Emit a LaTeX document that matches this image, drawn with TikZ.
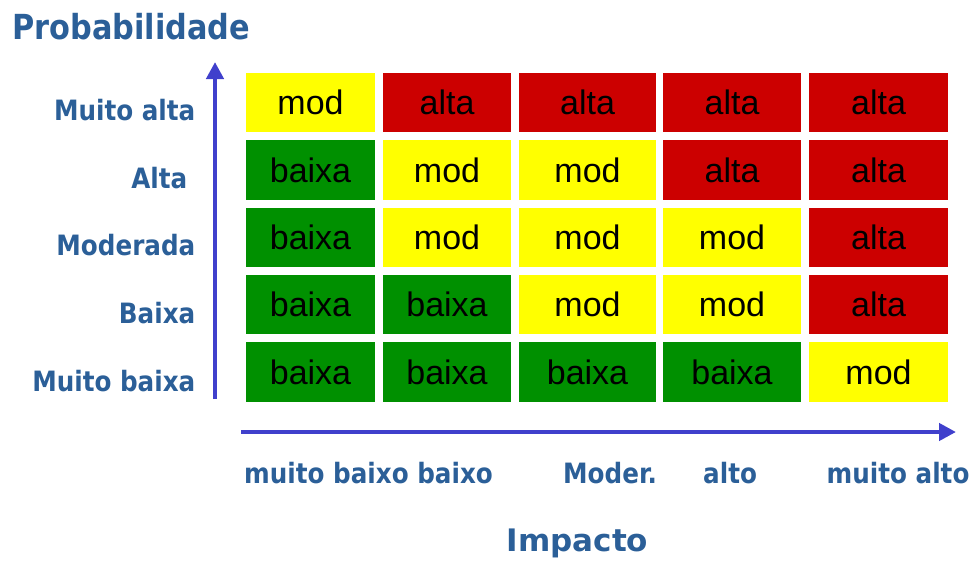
\documentclass[tikz,border=0pt]{standalone}
\usepackage{fontspec}
\setmainfont{Liberation Sans}
\newfontfamily\labfont[FakeStretch=0.88]{DejaVu Sans}
\newfontfamily\labfontw{DejaVu Sans}
\usetikzlibrary{arrows.meta}
\definecolor{cy}{RGB}{255,255,0}
\definecolor{cr}{RGB}{204,0,0}
\definecolor{cg}{RGB}{0,144,0}
\definecolor{lblue}{RGB}{43,95,152}
\definecolor{ablue}{RGB}{64,64,204}
\tikzset{
  cell/.style={inner sep=0pt, outer sep=0pt, minimum height=59.5pt, text height=24pt, text depth=0pt,
     font=\fontsize{34}{36}\selectfont, text=black},
  rowlab/.style={anchor=base east, inner sep=0pt, text=lblue, font=\labfont\bfseries\fontsize{28}{30}\selectfont},
  collab/.style={anchor=base west, inner sep=0pt, text=lblue, font=\labfont\bfseries\fontsize{28}{30}\selectfont},
  title/.style={anchor=base west, inner sep=0pt, text=lblue},
  axis/.style={draw=ablue, line width=4.5pt, -{Triangle[length=17pt,width=17pt]}}
}
\begin{document}
\begin{tikzpicture}[x=1pt,y=-1pt]
\useasboundingbox (0,0) rectangle (971,562);
% column centres and widths
\def\cA{310.5}\def\wA{129}
\def\cB{447}\def\wB{128}
\def\cC{587.5}\def\wC{137}
\def\cD{732}\def\wD{138}
\def\cE{878.5}\def\wE{139}
\def\rA{102.7}\def\rB{170}\def\rC{237.3}\def\rD{304.6}\def\rE{372}
% row 1
\node[cell, fill=cy, minimum width=\wA] (c11) at (\cA,\rA) {mod};
\node[cell, fill=cr, minimum width=\wB] (c12) at (\cB,\rA) {alta};
\node[cell, fill=cr, minimum width=\wC] (c13) at (\cC,\rA) {alta};
\node[cell, fill=cr, minimum width=\wD] (c14) at (\cD,\rA) {alta};
\node[cell, fill=cr, minimum width=\wE] (c15) at (\cE,\rA) {alta};
% row 2
\node[cell, fill=cg, minimum width=\wA] (c21) at (\cA,\rB) {baixa};
\node[cell, fill=cy, minimum width=\wB] (c22) at (\cB,\rB) {mod};
\node[cell, fill=cy, minimum width=\wC] (c23) at (\cC,\rB) {mod};
\node[cell, fill=cr, minimum width=\wD] (c24) at (\cD,\rB) {alta};
\node[cell, fill=cr, minimum width=\wE] (c25) at (\cE,\rB) {alta};
% row 3
\node[cell, fill=cg, minimum width=\wA] (c31) at (\cA,\rC) {baixa};
\node[cell, fill=cy, minimum width=\wB] (c32) at (\cB,\rC) {mod};
\node[cell, fill=cy, minimum width=\wC] (c33) at (\cC,\rC) {mod};
\node[cell, fill=cy, minimum width=\wD] (c34) at (\cD,\rC) {mod};
\node[cell, fill=cr, minimum width=\wE] (c35) at (\cE,\rC) {alta};
% row 4
\node[cell, fill=cg, minimum width=\wA] (c41) at (\cA,\rD) {baixa};
\node[cell, fill=cg, minimum width=\wB] (c42) at (\cB,\rD) {baixa};
\node[cell, fill=cy, minimum width=\wC] (c43) at (\cC,\rD) {mod};
\node[cell, fill=cy, minimum width=\wD] (c44) at (\cD,\rD) {mod};
\node[cell, fill=cr, minimum width=\wE] (c45) at (\cE,\rD) {alta};
% row 5
\node[cell, fill=cg, minimum width=\wA] (c51) at (\cA,\rE) {baixa};
\node[cell, fill=cg, minimum width=\wB] (c52) at (\cB,\rE) {baixa};
\node[cell, fill=cg, minimum width=\wC] (c53) at (\cC,\rE) {baixa};
\node[cell, fill=cg, minimum width=\wD] (c54) at (\cD,\rE) {baixa};
\node[cell, fill=cy, minimum width=\wE] (c55) at (\cE,\rE) {mod};
% axes
\coordinate (vs) at (215,399);
\coordinate (ve) at (215,62);
\coordinate (hs) at (241,432);
\coordinate (he) at (956,432);
\draw[axis] (vs) -- (ve);
\draw[axis] (hs) -- (he);
% row labels
\node[rowlab] (l1) at (195.5,120.5) {Muito alta};
\node[rowlab] (l2) at (187.5,188) {Alta};
\node[rowlab] (l3) at (195.5,255.5) {Moderada};
\node[rowlab] (l4) at (195.5,323) {Baixa};
\node[rowlab] (l5) at (195.5,391) {Muito baixa};
% column labels
\node[collab] (k1) at (244,483) {muito baixo baixo};
\node[collab] (k3) at (563,483) {Moder.};
\node[collab] (k4) at (703,483) {alto};
\node[collab] (k5) at (826.5,483) {muito alto};
% titles
\node[title, font=\labfont\bfseries\fontsize{34.5}{36}\selectfont] (tp) at (12,39) {Probabilidade};
\node[title, font=\labfontw\bfseries\fontsize{31}{34}\selectfont] (ti) at (506.5,551) {Impacto};
\end{tikzpicture}
\end{document}
